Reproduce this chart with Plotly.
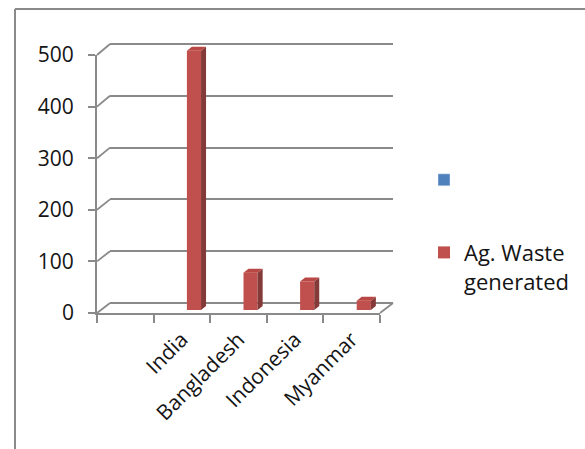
import plotly.graph_objects as go

# ---------------- data ----------------
categories = ["", "India", "Bangladesh", "Indonesia", "Myanmar"]
blue_series = [None, None, None, None, None]
ag_waste = [None, 500, 72, 55, 18]
y_ticks = [0, 100, 200, 300, 400, 500]

W, H = 585, 449
FONT = "Open Sans"
GRID = "#8a8a8a"
TXT = "#141414"

def px(x):
    return x / W

def py(y):
    return 1 - y / H

xpos = list(range(len(categories)))
xr = [-0.5, len(categories) - 0.5]

# geometry (pixels) of the pseudo-3D frame
FRONT = dict(x0=97, x1=380, y0=313, y500=55)
BACK = dict(x0=110, x1=393, y0=303, y500=44)
BARS = dict(x0=102, x1=385, y0=310, y500=50.7)
BAR_YMAX = 560
BACK_PAD = 10  # value units of padding so edge gridlines are kept

def front_py(v):
    return FRONT["y0"] + (FRONT["y500"] - FRONT["y0"]) * v / 500

def back_py(v):
    return BACK["y0"] + (BACK["y500"] - BACK["y0"]) * v / 500

bar_pxu = (BARS["y0"] - BARS["y500"]) / 500
bar_ytop = BARS["y0"] - BAR_YMAX * bar_pxu
slot_px = (BARS["x1"] - BARS["x0"]) / len(categories)
bar_w = 0.25
dx = 5 / slot_px
dy = 4 / bar_pxu

fig = go.Figure()

# invisible anchors so that the front and back axes get drawn
fig.add_trace(go.Scatter(x=xpos, y=[0] * len(xpos), mode="none", xaxis="x", yaxis="y",
                         showlegend=False, hoverinfo="skip"))
fig.add_trace(go.Scatter(x=xpos, y=[0] * len(xpos), mode="none", xaxis="x2", yaxis="y2",
                         showlegend=False, hoverinfo="skip"))

fig.add_trace(go.Bar(x=xpos, y=blue_series, name=" ", marker_color="#4F81BD",
                     xaxis="x3", yaxis="y3", legendgroup="a"))
fig.add_trace(go.Bar(x=xpos, y=ag_waste, name="Ag. Waste<br>generated",
                     marker=dict(color="#C0504D", line_width=0),
                     offset=0, width=bar_w, xaxis="x3", yaxis="y3", legendgroup="b"))

# side and top faces, derived from the data
sx, sy, tx, ty = [], [], [], []
for i, v in zip(xpos, ag_waste):
    if v is None:
        continue
    r = i + bar_w
    sx += [r, r, r + dx, r + dx, r, None]
    sy += [0, v, v + dy, dy, 0, None]
    tx += [i, r, r + dx, i + dx, i, None]
    ty += [v, v, v + dy, v + dy, v, None]
fig.add_trace(go.Scatter(x=sx, y=sy, mode="lines", fill="toself", fillcolor="#843a38",
                         line=dict(width=0, color="#843a38"), xaxis="x3", yaxis="y3",
                         showlegend=False, hoverinfo="skip"))
fig.add_trace(go.Scatter(x=tx, y=ty, mode="lines", fill="toself", fillcolor="#b94744",
                         line=dict(width=0, color="#b94744"), xaxis="x3", yaxis="y3",
                         showlegend=False, hoverinfo="skip"))

shapes = []
# diagonal connectors from front axis to back wall gridlines
for v in y_ticks:
    shapes.append(dict(type="line", xref="paper", yref="paper",
                       x0=px(FRONT["x0"]), y0=py(front_py(v)),
                       x1=px(BACK["x0"]), y1=py(back_py(v)),
                       line=dict(color=GRID, width=1.8)))
# right floor edge
shapes.append(dict(type="line", xref="paper", yref="paper",
                   x0=px(FRONT["x1"]), y0=py(front_py(0)),
                   x1=px(BACK["x1"]), y1=py(back_py(0)),
                   line=dict(color=GRID, width=1.8)))
# chart border
shapes.append(dict(type="line", xref="paper", yref="paper", x0=px(15), y0=py(9), x1=1.0, y1=py(9),
                   line=dict(color="#8a8a8a", width=2)))
shapes.append(dict(type="line", xref="paper", yref="paper", x0=px(15), y0=py(9), x1=px(15), y1=0,
                   line=dict(color="#8a8a8a", width=2)))

fig.update_layout(
    width=W, height=H, autosize=False,
    margin=dict(l=0, r=0, t=0, b=0, pad=0, autoexpand=False),
    paper_bgcolor="white", plot_bgcolor="rgba(0,0,0,0)",
    font=dict(family=FONT, size=21, color=TXT),
    barmode="overlay",
    showlegend=True,
    legend=dict(x=px(424), y=py(159), xanchor="left", yanchor="top",
                tracegroupgap=41, valign="top", font=dict(size=22, color=TXT),
                bgcolor="rgba(0,0,0,0)"),
    shapes=shapes,
    # front axes
    xaxis=dict(domain=[px(FRONT["x0"]), px(FRONT["x1"])], range=xr, anchor="y", automargin=False,
               showgrid=False, zeroline=False, showline=True, linecolor=GRID, linewidth=1.8,
               tickmode="array", tickvals=xpos, ticktext=categories, ticks="",
               tickangle=-45, ticklabelstandoff=4,
               minor=dict(tickmode="array", tickvals=[k - 0.5 for k in range(len(categories) + 1)],
                          ticks="outside", ticklen=8, tickwidth=1.8, tickcolor=GRID, showgrid=False),
               fixedrange=True),
    yaxis=dict(domain=[py(FRONT["y0"]), py(FRONT["y500"])], range=[0, 500], anchor="x", automargin=False,
               showgrid=False, zeroline=False, showline=True, linecolor=GRID, linewidth=1.8,
               tickmode="array", tickvals=y_ticks, ticks="outside", ticklen=7, tickwidth=1.8,
               tickcolor=GRID, ticklabelstandoff=10, fixedrange=True),
    # back wall axes (gridlines)
    xaxis2=dict(domain=[px(BACK["x0"]), px(BACK["x1"])], range=xr, anchor="y2", automargin=False,
                showgrid=False, zeroline=False, showline=False, showticklabels=False, ticks=""),
    yaxis2=dict(domain=[py(back_py(-BACK_PAD)), py(back_py(500 + BACK_PAD))],
                range=[-BACK_PAD, 500 + BACK_PAD], anchor="x2", automargin=False,
                showgrid=True, gridcolor=GRID, gridwidth=1.8, zeroline=False,
                tickmode="array", tickvals=y_ticks, showticklabels=False, ticks="", showline=False),
    # bar axes (mid depth)
    xaxis3=dict(domain=[px(BARS["x0"]), px(BARS["x1"])], range=xr, anchor="y3", visible=False,
                automargin=False),
    yaxis3=dict(domain=[py(BARS["y0"]), py(bar_ytop)], range=[0, BAR_YMAX], anchor="x3", visible=False,
                automargin=False),
)

fig.write_html("out.html")
